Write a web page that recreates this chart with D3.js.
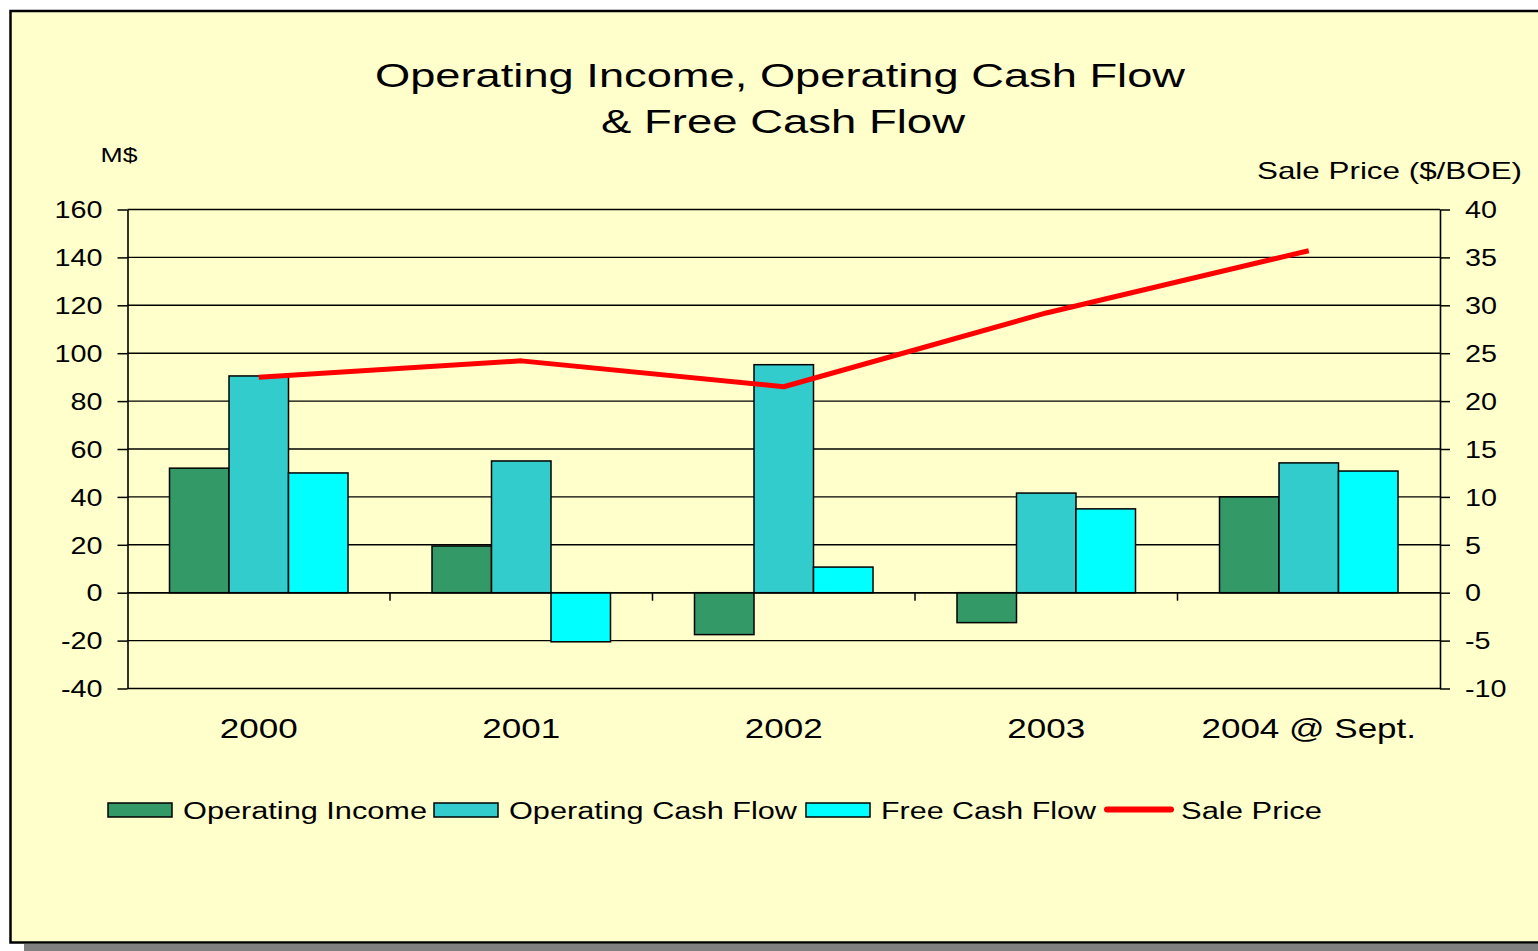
<!DOCTYPE html>
<html><head><meta charset="utf-8">
<script src="https://cdn.jsdelivr.net/npm/d3@7"></script>
<style>
html,body{margin:0;padding:0;background:#fff;}
svg{display:block;}
text{font-family:"Liberation Sans",Arial,sans-serif;fill:#000;}
</style></head>
<body>
<svg id="chart" width="1538" height="951"></svg>
<script>
// ---- data ----
const categories = ["2000", "2001", "2002", "2003", "2004 @ Sept."];
const operatingIncome = [52, 19.5, -17.5, -12.5, 40];
const operatingCashFlow = [90.5, 55, 95.2, 41.6, 54.2];
const freeCashFlow = [50, -20.5, 10.7, 35, 50.8];
const salePrice = [22.5, 24.2, 21.5, 29.2, 35.7];
const leftTicks = [-40, -20, 0, 20, 40, 60, 80, 100, 120, 140, 160];
const rightTicks = [-10, -5, 0, 5, 10, 15, 20, 25, 30, 35, 40];
const seriesNames = ["Operating Income", "Operating Cash Flow", "Free Cash Flow"];
const seriesColors = ["#339966", "#33CCCC", "#00FFFF"];
const lineName = "Sale Price";
const lineColor = "#FF0000";

const svg = d3.select("#chart");
const SX = 1.25; // horizontal text stretch of the original rendering

// frame
svg.append("rect").attr("x", 24).attr("y", 944).attr("width", 1530).attr("height", 7).attr("fill", "#808080");
svg.append("rect").attr("x", 10.5).attr("y", 11).attr("width", 1540).attr("height", 931.5)
  .attr("fill", "#FFFFCC").attr("stroke", "#000").attr("stroke-width", 2.5);

const L = 127.5, R = 1440, T = 209.5, B = 688.5;
const y = d3.scaleLinear().domain([-40, 160]).range([B, T]);
const y2 = d3.scaleLinear().domain([-10, 40]).range([B, T]);
const x0 = d3.scaleBand().domain(categories).range([L, R]).padding(0);
const bw = x0.bandwidth();
const x1 = d3.scaleBand().domain(seriesNames).range([bw * 0.16, bw * 0.84]).padding(0);
const fmt = d => String(d);

function fit(sel, sx) {
  sel.each(function () {
    const len = this.getComputedTextLength();
    d3.select(this).attr("textLength", len * sx).attr("lengthAdjust", "spacingAndGlyphs");
  });
}

// gridlines
svg.append("g").selectAll("line").data(leftTicks).join("line")
  .attr("x1", L).attr("x2", R).attr("y1", d => y(d)).attr("y2", d => y(d))
  .attr("stroke", "#000").attr("stroke-width", 1.4);

// bars
const rows = categories.map((c, i) => ({ cat: c, vals: [operatingIncome[i], operatingCashFlow[i], freeCashFlow[i]] }));
const g = svg.append("g").selectAll("g").data(rows).join("g")
  .attr("transform", d => `translate(${x0(d.cat)},0)`);
g.selectAll("rect").data(d => d.vals.map((v, k) => ({ v, k }))).join("rect")
  .attr("x", d => x1(seriesNames[d.k]))
  .attr("width", x1.bandwidth())
  .attr("y", d => Math.min(y(d.v), y(0)))
  .attr("height", d => Math.abs(y(d.v) - y(0)))
  .attr("fill", d => seriesColors[d.k])
  .attr("stroke", "#000").attr("stroke-width", 1.5);

// zero line + category ticks
svg.append("line").attr("x1", L).attr("x2", R).attr("y1", y(0)).attr("y2", y(0))
  .attr("stroke", "#000").attr("stroke-width", 1.6);
const catAxis = d3.axisBottom(x0).tickSize(0).tickSizeOuter(0);
const boundaries = categories.slice(1).map(c => x0(c));
svg.append("g").selectAll("line").data(boundaries).join("line")
  .attr("x1", d => d).attr("x2", d => d).attr("y1", y(0)).attr("y2", y(0) + 8)
  .attr("stroke", "#000").attr("stroke-width", 1.5);

// category labels
const cl = svg.append("g").attr("transform", `translate(0,${B})`).call(catAxis);
cl.select(".domain").remove();
cl.selectAll("text").attr("font-size", 28).attr("dy", null).attr("y", 49.5)
  .attr("font-family", '"Liberation Sans",Arial,sans-serif').attr("fill", "#000");
fit(cl.selectAll("text"), SX);

// left axis
const la = svg.append("g").attr("transform", `translate(${L},0)`)
  .call(d3.axisLeft(y).tickValues(leftTicks).tickSize(10).tickSizeOuter(0).tickFormat(fmt));
la.select(".domain").attr("stroke-width", 1.6);
la.selectAll("line").attr("stroke-width", 1.5);
la.selectAll("text").attr("font-size", 23).attr("x", -25).attr("dy", "0.36em")
  .attr("font-family", '"Liberation Sans",Arial,sans-serif').attr("fill", "#000");
fit(la.selectAll("text"), SX);

// right axis
const ra = svg.append("g").attr("transform", `translate(${R},0)`)
  .call(d3.axisRight(y2).tickValues(rightTicks).tickSize(10).tickSizeOuter(0).tickFormat(fmt));
ra.select(".domain").attr("stroke-width", 1.6);
ra.selectAll("line").attr("stroke-width", 1.5);
ra.selectAll("text").attr("font-size", 23).attr("x", 25).attr("dy", "0.36em")
  .attr("font-family", '"Liberation Sans",Arial,sans-serif').attr("fill", "#000");
fit(ra.selectAll("text"), SX);

// sale price line
const line = d3.line().x((d, i) => x0(categories[i]) + bw / 2).y(d => y2(d));
svg.append("path").datum(salePrice).attr("d", line)
  .attr("fill", "none").attr("stroke", lineColor).attr("stroke-width", 5).attr("stroke-linejoin", "round");

// titles
svg.append("text").attr("x", 780).attr("y", 87).attr("text-anchor", "middle").attr("font-size", 33)
  .attr("textLength", 810).attr("lengthAdjust", "spacingAndGlyphs")
  .text("Operating Income, Operating Cash Flow");
svg.append("text").attr("x", 783).attr("y", 133).attr("text-anchor", "middle").attr("font-size", 33)
  .attr("textLength", 364).attr("lengthAdjust", "spacingAndGlyphs")
  .text("& Free Cash Flow");
svg.append("text").attr("x", 100.5).attr("y", 161.5).attr("font-size", 21)
  .attr("textLength", 37).attr("lengthAdjust", "spacingAndGlyphs").text("M$");
svg.append("text").attr("x", 1257).attr("y", 179).attr("font-size", 24)
  .attr("textLength", 265).attr("lengthAdjust", "spacingAndGlyphs").text("Sale Price ($/BOE)");

// legend
const legendItems = [
  { name: seriesNames[0], color: seriesColors[0], sw: 108, tx: 183, tw: 244 },
  { name: seriesNames[1], color: seriesColors[1], sw: 434, tx: 509, tw: 288 },
  { name: seriesNames[2], color: seriesColors[2], sw: 806, tx: 881, tw: 215 },
];
const lg = svg.append("g");
legendItems.forEach(it => {
  lg.append("rect").attr("x", it.sw).attr("y", 803).attr("width", 64).attr("height", 14)
    .attr("fill", it.color).attr("stroke", "#000").attr("stroke-width", 1.5);
  lg.append("text").attr("x", it.tx).attr("y", 818.5).attr("font-size", 23)
    .attr("textLength", it.tw).attr("lengthAdjust", "spacingAndGlyphs").text(it.name);
});
lg.append("line").attr("x1", 1107).attr("x2", 1171).attr("y1", 809.5).attr("y2", 809.5)
  .attr("stroke", lineColor).attr("stroke-width", 6).attr("stroke-linecap", "round");
lg.append("text").attr("x", 1181).attr("y", 818.5).attr("font-size", 23)
  .attr("textLength", 141).attr("lengthAdjust", "spacingAndGlyphs").text(lineName);
</script>
</body></html>
